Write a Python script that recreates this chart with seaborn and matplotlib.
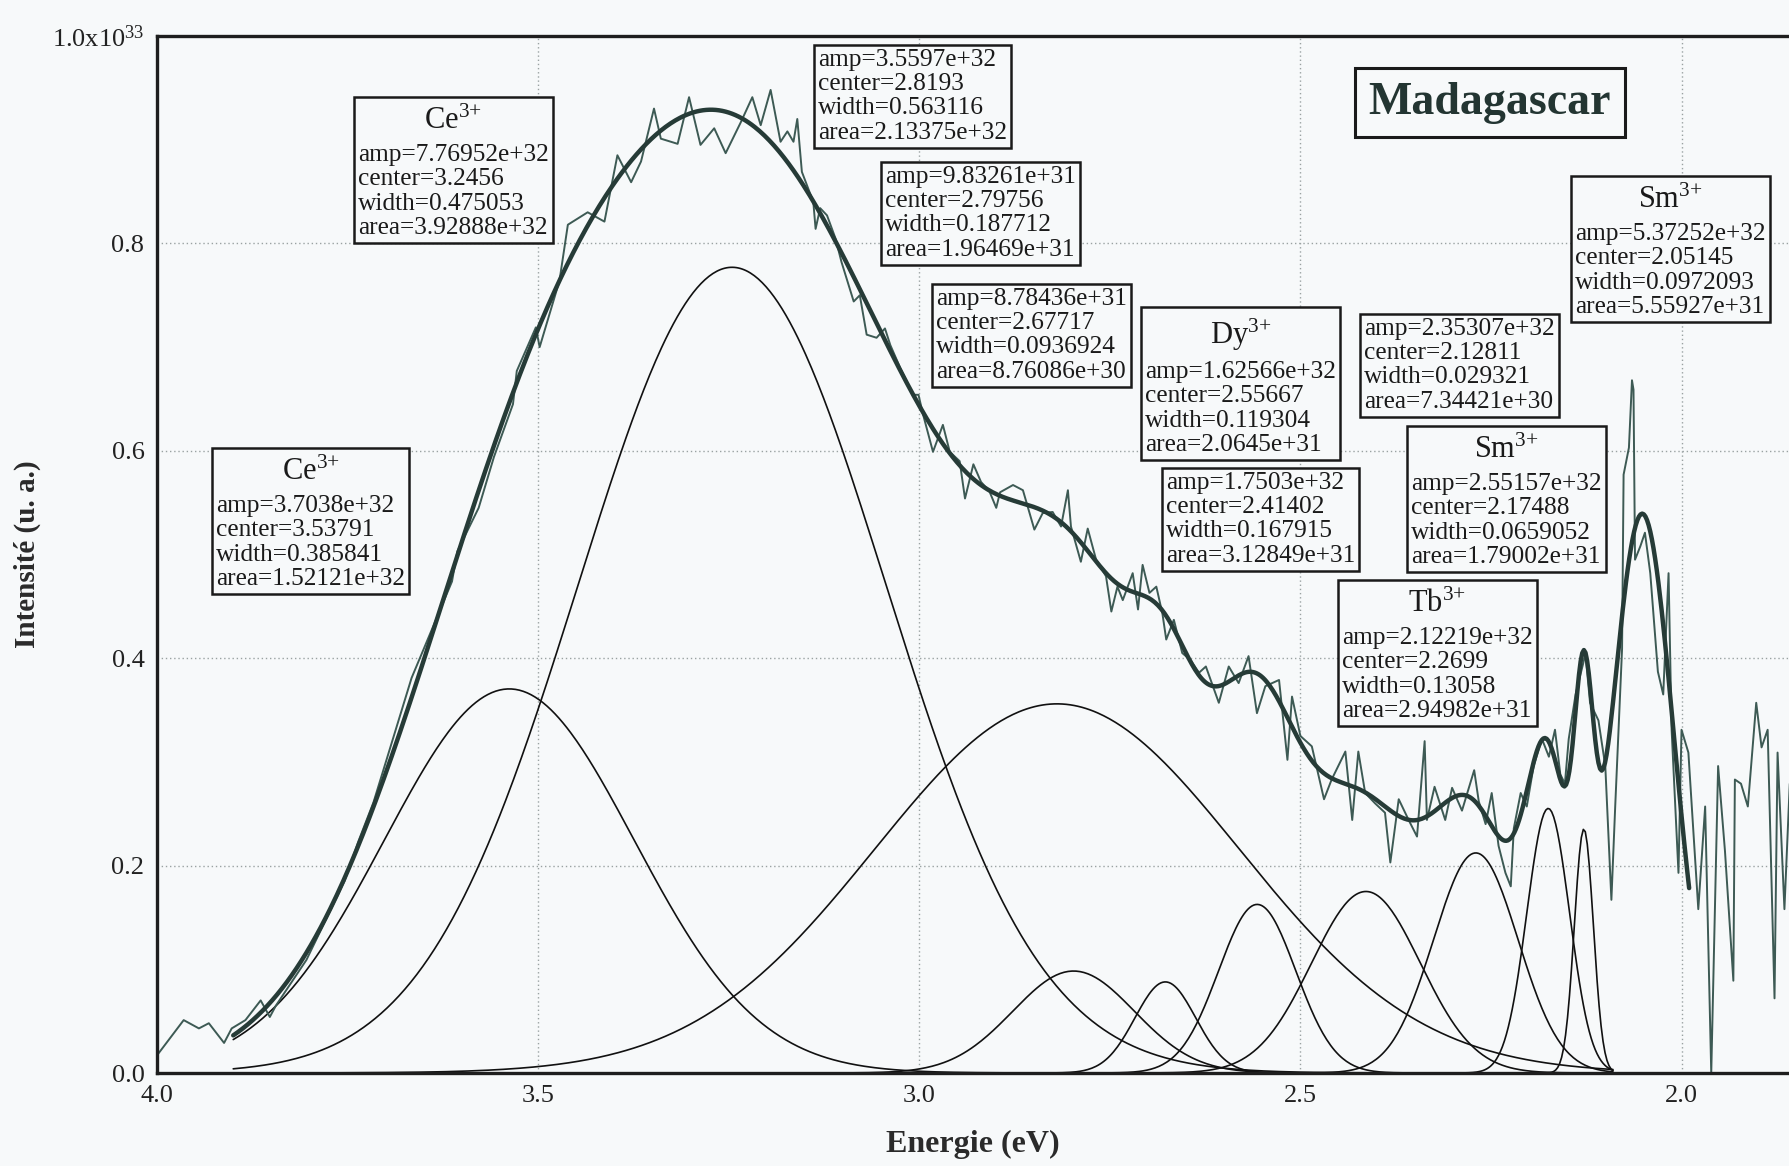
import numpy as np
import pandas as pd
import matplotlib
matplotlib.use("Agg")
import matplotlib.pyplot as plt
import seaborn as sns
from matplotlib.offsetbox import TextArea, VPacker, AnnotationBbox
from matplotlib.ticker import MultipleLocator

# --- Gaussian fit parameters as printed in the boxes ---
ions = ["Ce$^{3{+}}$", "Ce$^{3{+}}$", "", "", "", "Dy$^{3{+}}$", "", "Tb$^{3{+}}$", "Sm$^{3{+}}$", "", "Sm$^{3{+}}$"]
amps = [3.7038e32, 7.76952e32, 3.5597e32, 9.83261e31, 8.78436e31, 1.62566e32,
        1.7503e32, 2.12219e32, 2.55157e32, 2.35307e32, 5.37252e32]
centers = [3.53791, 3.2456, 2.8193, 2.79756, 2.67717, 2.55667,
           2.41402, 2.2699, 2.17488, 2.12811, 2.05145]
widths = [0.385841, 0.475053, 0.563116, 0.187712, 0.0936924, 0.119304,
          0.167915, 0.13058, 0.0659052, 0.029321, 0.0972093]
areas = [1.52121e32, 3.92888e32, 2.13375e32, 1.96469e31, 8.76086e30, 2.0645e31,
         3.12849e31, 2.94982e31, 1.79002e31, 7.34421e30, 5.55927e31]
# components drawn as thin lines (the last Sm one hides under the fit)
drawn = [True] * 10 + [False]

meas_E = [4.000, 3.965, 3.945, 3.932, 3.912, 3.902, 3.884, 3.864, 3.852, 3.844,
          3.804, 3.754, 3.736, 3.716, 3.666, 3.613, 3.606, 3.578, 3.558, 3.533,
          3.528, 3.503, 3.498, 3.472, 3.461, 3.435, 3.413, 3.396, 3.378, 3.365,
          3.348, 3.339, 3.317, 3.302, 3.287, 3.269, 3.254, 3.234, 3.219, 3.208,
          3.195, 3.182, 3.173, 3.165, 3.160, 3.154, 3.139, 3.136, 3.130, 3.121,
          3.110, 3.102, 3.086, 3.078, 3.069, 3.056, 3.045, 3.038, 3.025, 3.008,
          3.001, 2.995, 2.982, 2.969, 2.960, 2.947, 2.940, 2.929, 2.919, 2.908,
          2.899, 2.894, 2.877, 2.864, 2.849, 2.838, 2.825, 2.814, 2.805, 2.801,
          2.788, 2.779, 2.768, 2.755, 2.748, 2.740, 2.733, 2.720, 2.713, 2.707,
          2.698, 2.689, 2.681, 2.676, 2.666, 2.655, 2.644, 2.633, 2.624, 2.607,
          2.594, 2.581, 2.568, 2.557, 2.546, 2.528, 2.517, 2.511, 2.500, 2.485,
          2.469, 2.459, 2.441, 2.432, 2.424, 2.415, 2.402, 2.389, 2.382, 2.371,
          2.358, 2.347, 2.337, 2.334, 2.324, 2.310, 2.301, 2.288, 2.272, 2.266,
          2.257, 2.249, 2.240, 2.231, 2.224, 2.220, 2.211, 2.203, 2.194, 2.183,
          2.174, 2.166, 2.159, 2.153, 2.148, 2.139, 2.126, 2.120, 2.109, 2.100,
          2.092, 2.087, 2.078, 2.076, 2.069, 2.065, 2.063, 2.061, 2.054, 2.048,
          2.041, 2.031, 2.024, 2.017, 2.013, 2.004, 2.000, 1.991, 1.978, 1.969,
          1.961, 1.952, 1.943, 1.932, 1.930, 1.922, 1.913, 1.902, 1.895, 1.887,
          1.878, 1.874, 1.865, 1.858]
meas_I = [0.017, 0.051, 0.043, 0.048, 0.029, 0.043, 0.051, 0.070, 0.054, 0.065,
          0.109, 0.185, 0.223, 0.261, 0.381, 0.474, 0.503, 0.545, 0.594, 0.645,
          0.677, 0.719, 0.700, 0.764, 0.818, 0.830, 0.821, 0.885, 0.859, 0.879,
          0.930, 0.901, 0.896, 0.941, 0.895, 0.911, 0.887, 0.917, 0.941, 0.914,
          0.948, 0.898, 0.908, 0.898, 0.920, 0.869, 0.840, 0.814, 0.834, 0.827,
          0.805, 0.782, 0.744, 0.750, 0.712, 0.709, 0.718, 0.702, 0.680, 0.654,
          0.654, 0.635, 0.599, 0.625, 0.599, 0.590, 0.554, 0.587, 0.570, 0.561,
          0.545, 0.560, 0.567, 0.562, 0.524, 0.540, 0.541, 0.527, 0.562, 0.527,
          0.493, 0.525, 0.495, 0.479, 0.445, 0.469, 0.456, 0.482, 0.447, 0.490,
          0.463, 0.469, 0.443, 0.418, 0.437, 0.405, 0.398, 0.386, 0.392, 0.357,
          0.392, 0.376, 0.402, 0.347, 0.373, 0.379, 0.302, 0.363, 0.325, 0.315,
          0.264, 0.283, 0.310, 0.244, 0.310, 0.270, 0.260, 0.251, 0.203, 0.264,
          0.244, 0.228, 0.320, 0.244, 0.276, 0.244, 0.275, 0.253, 0.292, 0.262,
          0.240, 0.270, 0.219, 0.193, 0.180, 0.236, 0.270, 0.257, 0.296, 0.322,
          0.305, 0.331, 0.288, 0.279, 0.322, 0.365, 0.404, 0.357, 0.340, 0.296,
          0.167, 0.257, 0.409, 0.577, 0.603, 0.668, 0.659, 0.495, 0.508, 0.521,
          0.482, 0.387, 0.365, 0.482, 0.331, 0.193, 0.331, 0.309, 0.158, 0.257,
          0.000, 0.296, 0.214, 0.089, 0.283, 0.279, 0.257, 0.357, 0.314, 0.331,
          0.072, 0.309, 0.158, 0.279]

x_ticks = [4.0, 3.5, 3.0, 2.5, 2.0]
y_ticks = [0.0, 0.2, 0.4, 0.6, 0.8, 1.0]
y_ticklabels = ["0.0", "0.2", "0.4", "0.6", "0.8", "1.0x10$^{33}$"]

# box layout (figure pixels from top-left), same order as the parameter lists
box_left = [216, 358, 818, 885, 936, 1145, 1166, 1342, 1411, 1364, 1575]
box_top = [452, 101, 49, 166, 288, 311, 472, 584, 430, 318, 180]


def gauss(x, a, c, w):
    return a / 1e33 * np.exp(-4 * np.log(2) * (x - c) ** 2 / w ** 2)


# long-form table of the thin component curves
e_comp = np.linspace(3.9, 2.09, 700)
rows = []
for k in range(len(amps)):
    if drawn[k]:
        rows.append(pd.DataFrame({"E": e_comp, "I": gauss(e_comp, amps[k], centers[k], widths[k]), "comp": k}))
comp_df = pd.concat(rows)

e_fit = np.linspace(3.9, 1.99, 900)
fit_I = sum(gauss(e_fit, amps[k], centers[k], widths[k]) for k in range(len(amps)))
fit_df = pd.DataFrame({"E": e_fit, "I": fit_I})
meas_df = pd.DataFrame({"E": meas_E, "I": meas_I})

sns.set_style("white")
plt.rcParams["font.family"] = ["Liberation Serif", "DejaVu Serif"]
plt.rcParams["mathtext.fontset"] = "custom"
plt.rcParams["mathtext.rm"] = "Liberation Serif"
plt.rcParams["mathtext.default"] = "regular"

bg = "#f7f9fa"
W, H = 1789, 1166
fig = plt.figure(figsize=(W / 100, H / 100), dpi=100, facecolor=bg)
ax = fig.add_axes([157 / W, 93 / H, 1 - 157 / W, (1073 - 36) / H], facecolor=bg)

sns.lineplot(data=comp_df, x="E", y="I", units="comp", estimator=None, sort=False,
             color="#111111", lw=1.2, ax=ax, legend=False)
sns.lineplot(data=meas_df, x="E", y="I", sort=False, estimator=None,
             color="#3d5a54", lw=1.4, ax=ax)
sns.lineplot(data=fit_df, x="E", y="I", sort=False, estimator=None,
             color="#263b37", lw=3.2, ax=ax)

ax.set_xlim(4.0, 1.859)
ax.set_ylim(0, 1.0)
ax.set_xticks(x_ticks)
ax.set_xticklabels([f"{v:.1f}" for v in x_ticks])
ax.xaxis.set_minor_locator(MultipleLocator(0.1))
ax.set_yticks(y_ticks)
ax.set_yticklabels(y_ticklabels)
ax.tick_params(axis="both", which="major", direction="in", length=18, width=2.2,
               labelsize=19, colors="#222222", pad=9)
ax.tick_params(axis="x", which="minor", direction="in", length=9, width=1.6, colors="#222222")
ax.grid(True, which="major", linestyle=(0, (1, 2)), color="#9aa2a2", lw=1.0)
for s in ["left", "bottom", "top"]:
    ax.spines[s].set_linewidth(2.4)
    ax.spines[s].set_color("#1e1e1e")
ax.spines["right"].set_visible(False)

ax.set_xlabel("Energie (eV)", fontsize=23, fontweight="bold", color="#2a2a2a", labelpad=16)
ax.set_ylabel("Intensité (u. a.)", fontsize=21, fontweight="bold", color="#2a2a2a", labelpad=8)

# parameter boxes
for k in range(len(amps)):
    body = TextArea(f"amp={amps[k]:g}\ncenter={centers[k]:g}\nwidth={widths[k]:g}\narea={areas[k]:g}",
                    textprops=dict(fontsize=18.3, linespacing=1.13, color="#1a1a1a"))
    if ions[k]:
        head = VPacker(children=[TextArea(ions[k], textprops=dict(fontsize=22, color="#1a1a1a"))],
                       pad=4, sep=0)
        content = VPacker(children=[head, body], align="center", pad=0, sep=2)
    else:
        content = body
    ab = AnnotationBbox(content, (box_left[k], H - box_top[k]), xycoords="figure pixels",
                        box_alignment=(0, 1), frameon=True, pad=0.3, annotation_clip=False,
                        bboxprops=dict(boxstyle="square", facecolor=bg, edgecolor="#1a1a1a", lw=1.8))
    ax.add_artist(ab)

fig.text((1343 + 1636) / 2 / W, 1 - (69 + 136) / 2 / H, "Madagascar", ha="center", va="center",
         fontsize=33, fontweight="bold", color="#233532",
         bbox=dict(boxstyle="square,pad=0.3", facecolor=bg, edgecolor="#1a1a1a", lw=2.2))

fig.savefig("out.png", dpi=100, facecolor=bg)
